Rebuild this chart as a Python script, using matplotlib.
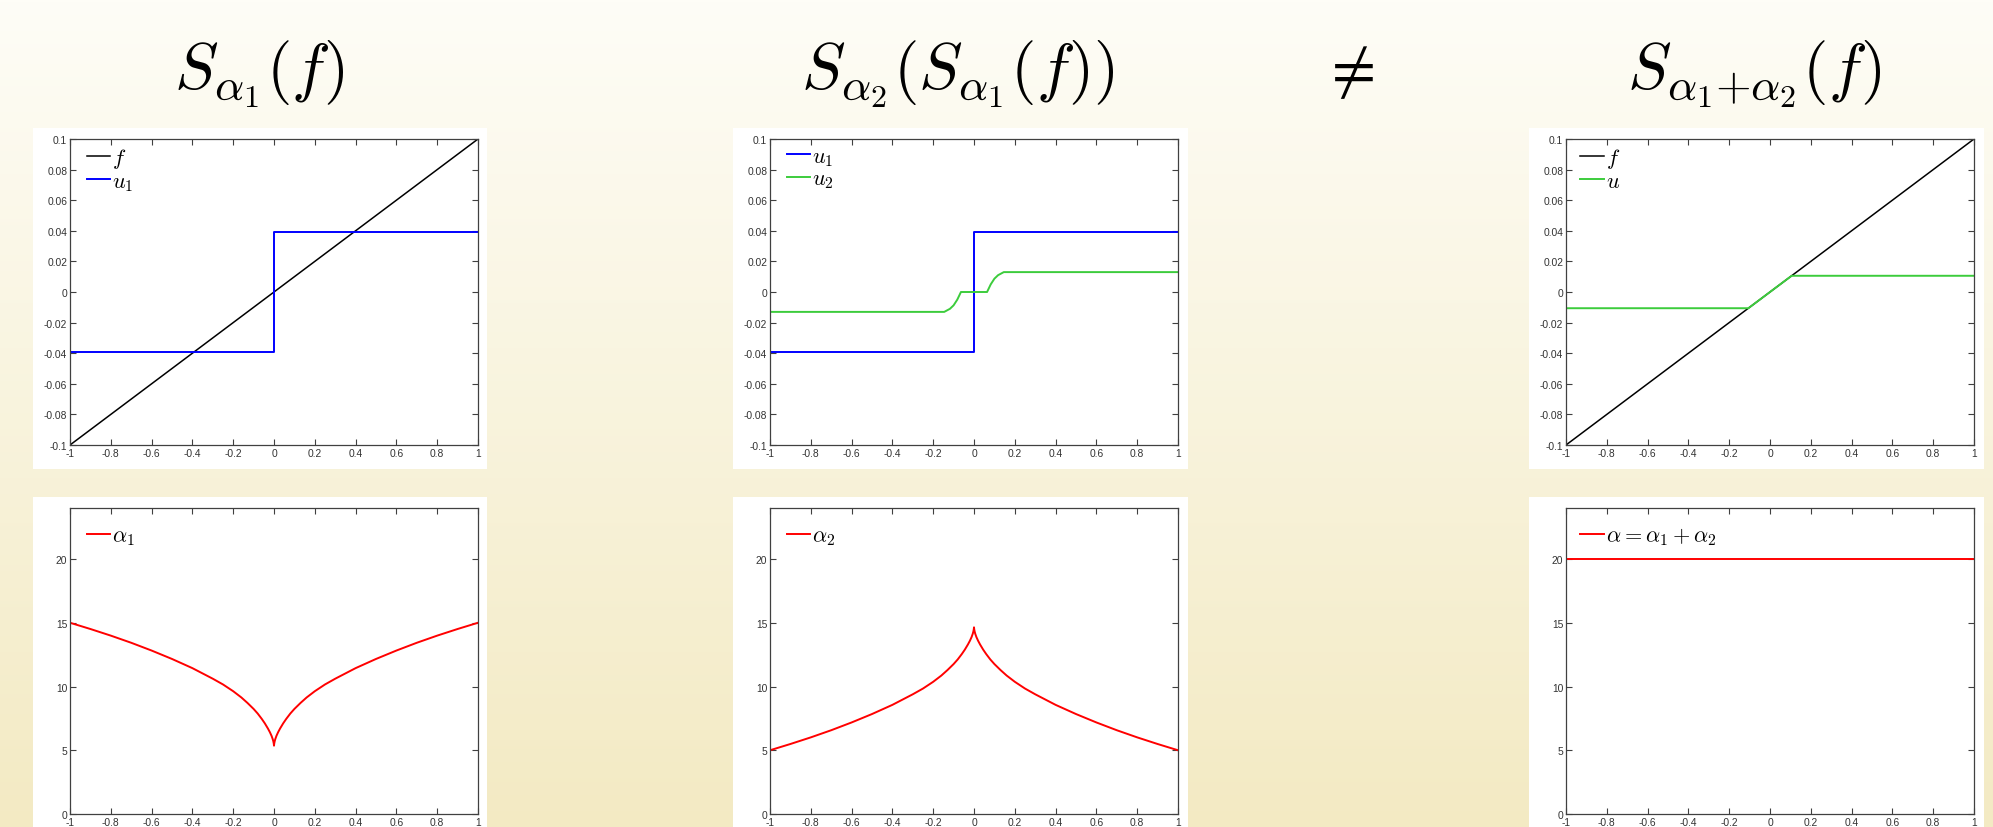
"""Slide figure: S_a2(S_a1(f)) != S_{a1+a2}(f)  (shrinkage with spatially varying alpha)."""
import numpy as np
import matplotlib
matplotlib.use("Agg")
import matplotlib.pyplot as plt
from matplotlib.patches import Rectangle

plt.rcParams["mathtext.fontset"] = "cm"
plt.rcParams["axes.unicode_minus"] = False
plt.rcParams["font.family"] = ["Liberation Sans", "DejaVu Sans"]

# ---- data ----
X_TICKS = [-1, -0.8, -0.6, -0.4, -0.2, 0, 0.2, 0.4, 0.6, 0.8, 1]
X_TICK_LABELS = ["-1", "-0.8", "-0.6", "-0.4", "-0.2", "0", "0.2", "0.4", "0.6", "0.8", "1"]
U_TICKS = [-0.1, -0.08, -0.06, -0.04, -0.02, 0, 0.02, 0.04, 0.06, 0.08, 0.1]
U_TICK_LABELS = ["-0.1", "-0.08", "-0.06", "-0.04", "-0.02", "0", "0.02", "0.04", "0.06", "0.08", "0.1"]
A_TICKS = [0, 5, 10, 15, 20]
A_TICK_LABELS = ["0", "5", "10", "15", "20"]

f_x = [-1, 1]
f_y = [-0.1, 0.1]

u1_x = [-1, 0, 0, 1]
u1_y = [-0.0395, -0.0395, 0.0395, 0.0395]

u2_x = [-1, -0.146, -0.118, -0.1, -0.082, -0.064, 0.064, 0.082, 0.1, 0.118, 0.146, 1]
u2_y = [-0.013, -0.013, -0.011, -0.0087, -0.005, 0.0, 0.0, 0.005, 0.0087, 0.011, 0.013, 0.013]

u_x = [-1, -0.106, 0.106, 1]
u_y = [-0.0106, -0.0106, 0.0106, 0.0106]

alpha_x = [-1, -0.9, -0.8, -0.7, -0.6, -0.5, -0.4, -0.3, -0.25, -0.2, -0.16, -0.13, -0.1,
           -0.08, -0.06, -0.045, -0.03, -0.02, -0.012, -0.006, -0.003, -0.001, 0,
           0.001, 0.003, 0.006, 0.012, 0.02, 0.03, 0.045, 0.06, 0.08, 0.1, 0.13, 0.16,
           0.2, 0.25, 0.3, 0.4, 0.5, 0.6, 0.7, 0.8, 0.9, 1]
alpha1_y = [15.0, 14.51, 13.99, 13.43, 12.82, 12.16, 11.44, 10.61, 10.16, 9.63, 9.14, 8.71, 8.24,
            7.88, 7.46, 7.11, 6.71, 6.41, 6.13, 5.86, 5.68, 5.51, 5.36,
            5.51, 5.68, 5.86, 6.13, 6.41, 6.71, 7.11, 7.46, 7.88, 8.24, 8.71, 9.14,
            9.63, 10.16, 10.61, 11.44, 12.16, 12.82, 13.43, 13.99, 14.51, 15.0]
alpha2_y = [5.0, 5.49, 6.01, 6.57, 7.18, 7.84, 8.56, 9.39, 9.84, 10.37, 10.86, 11.29, 11.76,
            12.12, 12.54, 12.89, 13.29, 13.59, 13.87, 14.14, 14.32, 14.49, 14.64,
            14.49, 14.32, 14.14, 13.87, 13.59, 13.29, 12.89, 12.54, 12.12, 11.76, 11.29, 10.86,
            10.37, 9.84, 9.39, 8.56, 7.84, 7.18, 6.57, 6.01, 5.49, 5.0]
alpha_sum_x = [-1, 1]
alpha_sum_y = [20, 20]

TITLES = [r"$S_{\alpha_1}(f)$", r"$S_{\alpha_2}(S_{\alpha_1}(f))$", r"$S_{\alpha_1{+}\alpha_2}(f)$"]

BLUE, GREEN, RED, BLACK = "#0000ff", "#3ccc3c", "#ff0000", "#000000"

W, H = 1993, 828
fig = plt.figure(figsize=(W / 100, H / 100), dpi=100)

# gradient slide background
bg = fig.add_axes([0, 0, 1, 1], zorder=-10)
top = np.array([254, 253, 247]) / 255.0
bot = np.array([243, 234, 195]) / 255.0
t = np.linspace(0, 1, 256)[:, None]
grad = (1 - t) * top + t * bot
bg.imshow(grad[:, None, :].repeat(2, axis=1), aspect="auto", extent=[0, 1, 0, 1])
bg.axis("off")


def px_axes(x0, y0, x1, y1):
    return [x0 / W, 1 - y1 / H, (x1 - x0) / W, (y1 - y0) / H]


# white panels behind each plot (pixel boxes)
for (x0, y0, x1, y1) in [(33, 129, 487, 470), (733, 129, 1188, 470), (1529, 129, 1984, 470),
                         (33, 498, 487, 840), (733, 498, 1188, 840), (1529, 498, 1984, 840)]:
    fig.add_artist(Rectangle((x0 / W, 1 - y1 / H), (x1 - x0) / W, (y1 - y0) / H,
                             transform=fig.transFigure, facecolor="white",
                             edgecolor="none", zorder=-5))

cols = [(70, 478), (770, 1178), (1566, 1974)]
axes_top = [fig.add_axes(px_axes(x0, 140, x1, 446)) for x0, x1 in cols]
axes_bot = [fig.add_axes(px_axes(x0, 509, x1, 815)) for x0, x1 in cols]


def style(ax, yticks, ylabels, ylim):
    ax.set_xlim(-1, 1)
    ax.set_ylim(*ylim)
    ax.set_xticks(X_TICKS)
    ax.set_xticklabels(X_TICK_LABELS)
    ax.set_yticks(yticks)
    ax.set_yticklabels(ylabels)
    ax.tick_params(direction="in", top=True, right=True, length=4, width=0.8,
                   labelsize=7.4, colors="#404040", labelcolor="#333333", pad=2)
    for s in ax.spines.values():
        s.set_color("#404040")
        s.set_linewidth(0.9)


def legend(ax, y=0.985, x=0.035):
    ax.legend(loc="upper left", bbox_to_anchor=(x, y), frameon=False,
              fontsize=16, handlelength=1.05, handletextpad=0.1, labelspacing=0.05,
              borderaxespad=0, borderpad=0.1)


ax = axes_top[0]
ax.plot(f_x, f_y, color=BLACK, lw=1.1, label="$f$")
ax.plot(u1_x, u1_y, color=BLUE, lw=1.4, label="$u_1$")
style(ax, U_TICKS, U_TICK_LABELS, (-0.1, 0.1))
legend(ax)

ax = axes_top[1]
ax.plot(u1_x, u1_y, color=BLUE, lw=1.4, label="$u_1$")
ax.plot(u2_x, u2_y, color=GREEN, lw=1.4, label="$u_2$")
style(ax, U_TICKS, U_TICK_LABELS, (-0.1, 0.1))
legend(ax)

ax = axes_top[2]
ax.plot(f_x, f_y, color=BLACK, lw=1.1, label="$f$")
ax.plot(u_x, u_y, color=GREEN, lw=1.4, label="$u$")
style(ax, U_TICKS, U_TICK_LABELS, (-0.1, 0.1))
legend(ax, x=0.03)

for ax, y, lab in [(axes_bot[0], alpha1_y, r"$\alpha_1$"),
                   (axes_bot[1], alpha2_y, r"$\alpha_2$")]:
    ax.plot(alpha_x, y, color=RED, lw=1.4, label=lab)
    style(ax, A_TICKS, A_TICK_LABELS, (0, 24))
    legend(ax, y=0.95)

ax = axes_bot[2]
ax.plot(alpha_sum_x, alpha_sum_y, color=RED, lw=1.4, label=r"$\alpha = \alpha_1 + \alpha_2$")
style(ax, A_TICKS, A_TICK_LABELS, (0, 24))
legend(ax, y=0.95, x=0.03)

# slide titles
for xc, txt in zip([259, 958, 1754], TITLES):
    fig.text(xc / W, 1 - 74 / H, txt, fontsize=47, ha="center", va="center")
fig.text(1347 / W, 1 - 72 / H, r"$\neq$", fontsize=46, ha="center", va="center")

fig.savefig("out.png", dpi=100)
